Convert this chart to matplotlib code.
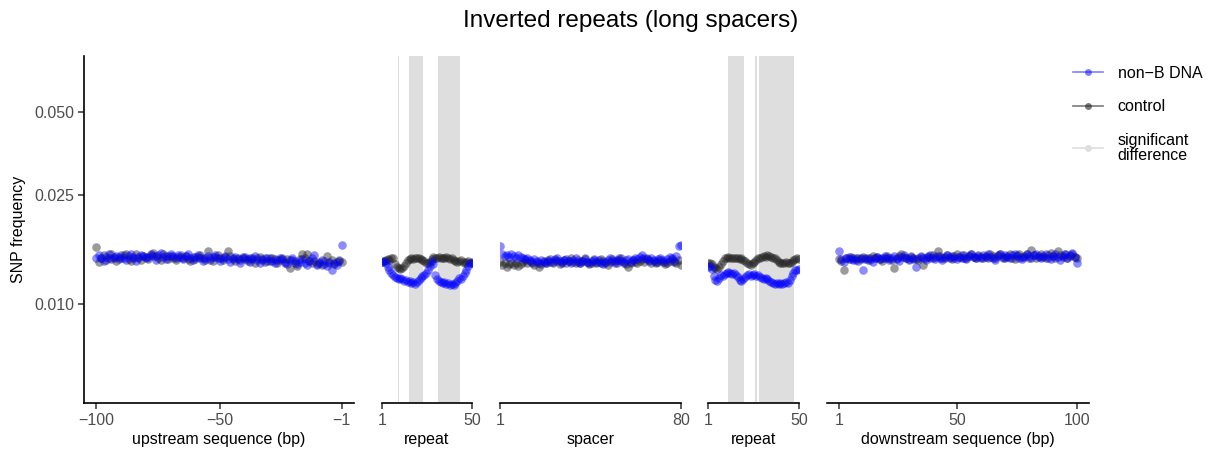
import numpy as np
import matplotlib.pyplot as plt
from matplotlib.lines import Line2D
from matplotlib.ticker import NullLocator

plt.rcParams['font.family'] = ['Liberation Sans', 'DejaVu Sans']

# SNP frequency values, in units of 1e-4
up_pos = np.arange(-100, 0)
up_nonb = [148, 151, 147, 144, 149, 153, 146, 149, 150, 146,
           151, 148, 145, 150, 152, 148, 144, 149, 151, 150,
           147, 149, 153, 150, 145, 151, 154, 149, 146, 150,
           152, 150, 147, 151, 149, 146, 150, 152, 148, 145,
           149, 151, 147, 144, 148, 150, 145, 149, 151, 147,
           144, 148, 150, 146, 143, 147, 149, 146, 142, 147,
           149, 146, 143, 147, 150, 145, 142, 146, 148, 144,
           147, 144, 141, 145, 148, 146, 142, 140, 145, 147,
           144, 140, 143, 146, 141, 139, 144, 147, 151, 139,
           142, 145, 140, 138, 143, 134, 142, 139, 144, 165]
up_ctrl = [162, 143, 147, 151, 145, 148, 152, 147, 144, 149,
           148, 151, 153, 146, 144, 149, 152, 148, 145, 150,
           149, 146, 151, 154, 150, 147, 145, 152, 150, 146,
           150, 148, 145, 149, 151, 147, 150, 146, 144, 149,
           146, 149, 151, 147, 145, 157, 148, 144, 149, 151,
           147, 145, 149, 156, 150, 146, 144, 148, 145, 149,
           146, 144, 148, 146, 142, 147, 149, 145, 143, 147,
           144, 148, 146, 142, 145, 147, 143, 146, 136, 145,
           142, 138, 146, 153, 147, 152, 144, 141, 144, 140,
           143, 139, 144, 150, 141, 145, 140, 143, 145, 143]

rep1_pos = np.arange(1, 51)
rep1_nonb = [143, 144, 141, 137, 133, 130, 128, 126, 125, 124,
             125, 124, 122, 123, 121, 122, 120, 121, 119, 121,
             123, 125, 127, 128, 130, 133, 138, 144, 140, 128,
             124, 122, 121, 120, 121, 119, 120, 118, 119, 118,
             120, 122, 125, 124, 127, 130, 134, 138, 142, 141]
rep1_ctrl = [143, 144, 145, 146, 145, 147, 148, 140, 137, 136,
             135, 136, 138, 142, 145, 146, 147, 146, 147, 148,
             147, 146, 145, 144, 142, 141, 143, 146, 149, 148,
             147, 149, 148, 147, 148, 149, 147, 146, 148, 145,
             144, 143, 144, 145, 143, 142, 143, 144, 142, 143]
rep1_sig = [10, 16, 17, 18, 19, 20, 21, 22, 23,
            32, 33, 34, 35, 36, 37, 38, 39, 40, 41, 42, 43]

sp_pos = np.arange(1, 81)
sp_nonb = [163, 152, 150, 151, 149, 152, 150, 148, 151, 149,
           148, 146, 147, 145, 143, 146, 144, 142, 145, 143,
           141, 144, 146, 143, 145, 147, 144, 142, 145, 146,
           144, 142, 145, 147, 143, 141, 144, 146, 143, 141,
           144, 146, 143, 145, 142, 140, 143, 145, 147, 144,
           142, 145, 147, 144, 142, 145, 146, 143, 145, 148,
           146, 149, 151, 148, 146, 144, 147, 145, 143, 146,
           148, 145, 143, 146, 149, 147, 144, 150, 163, 165]
sp_ctrl = [143, 139, 141, 137, 140, 142, 139, 141, 138, 140,
           143, 145, 142, 144, 141, 139, 143, 137, 140, 144,
           142, 145, 143, 141, 146, 144, 140, 143, 145, 142,
           144, 147, 143, 141, 145, 142, 144, 148, 143, 140,
           142, 145, 141, 143, 146, 144, 142, 139, 143, 146,
           144, 142, 145, 147, 143, 140, 137, 142, 145, 143,
           141, 144, 146, 143, 147, 145, 142, 144, 141, 143,
           145, 143, 140, 142, 144, 146, 143, 141, 145, 139]

rep2_pos = np.arange(1, 51)
rep2_nonb = [137, 138, 135, 127, 123, 122, 125, 128, 127, 129,
             130, 131, 130, 129, 130, 128, 126, 123, 122, 124,
             126, 128, 129, 127, 128, 129, 127, 128, 126, 125,
             124, 125, 124, 122, 121, 120, 119, 120, 119, 120,
             119, 120, 121, 120, 123, 127, 130, 133, 134, 135]
rep2_ctrl = [142, 141, 140, 137, 136, 135, 137, 140, 144, 147,
             148, 149, 148, 147, 148, 147, 148, 146, 147, 145,
             144, 142, 140, 139, 141, 143, 145, 147, 148, 149,
             150, 149, 151, 150, 149, 148, 147, 145, 143, 142,
             141, 142, 143, 142, 141, 143, 145, 146, 147, 146]
rep2_sig = [12, 13, 14, 15, 16, 17, 18, 19, 20, 27,
            29, 30, 31, 32, 33, 34, 35, 36, 37, 38, 39, 40,
            41, 42, 43, 44, 45, 46, 47]

down_pos = np.arange(1, 101)
down_nonb = [157, 146, 143, 147, 149, 146, 145, 148, 144, 147,
             134, 146, 148, 145, 143, 147, 149, 146, 148, 150,
             147, 145, 148, 150, 146, 144, 149, 151, 147, 145,
             149, 146, 137, 148, 150, 147, 145, 149, 151, 148,
             146, 150, 148, 145, 149, 151, 147, 150, 148, 146,
             149, 151, 148, 146, 150, 152, 149, 147, 151, 149,
             147, 150, 152, 149, 147, 145, 150, 152, 148, 151,
             149, 147, 151, 153, 150, 148, 146, 149, 152, 150,
             148, 151, 153, 149, 147, 150, 152, 148, 146, 150,
             153, 149, 145, 150, 152, 148, 151, 154, 149, 142]
down_ctrl = [146, 144, 134, 148, 146, 149, 147, 145, 148, 146,
             149, 147, 145, 148, 150, 147, 149, 146, 144, 148,
             150, 147, 145, 136, 148, 150, 152, 149, 147, 146,
             150, 148, 146, 145, 149, 139, 147, 150, 148, 151,
             149, 156, 150, 148, 147, 151, 149, 146, 150, 152,
             149, 147, 151, 148, 150, 153, 149, 147, 150, 148,
             151, 149, 147, 152, 150, 148, 151, 153, 149, 147,
             150, 152, 148, 146, 151, 153, 149, 150, 152, 148,
             158, 151, 148, 150, 153, 149, 147, 151, 154, 150,
             148, 156, 151, 149, 152, 147, 150, 153, 149, 148]

panels = [
    (up_pos, up_nonb, up_ctrl, [], 'upstream sequence (bp)',
     (-104.95, 3.95), [-100, -50, -1], ['\u2212100', '\u221250', '\u22121']),
    (rep1_pos, rep1_nonb, rep1_ctrl, rep1_sig, 'repeat', (1, 50), [1, 50], ['1', '50']),
    (sp_pos, sp_nonb, sp_ctrl, [], 'spacer', (1, 80), [1, 80], ['1', '80']),
    (rep2_pos, rep2_nonb, rep2_ctrl, rep2_sig, 'repeat', (1, 50), [1, 50], ['1', '50']),
    (down_pos, down_nonb, down_ctrl, [], 'downstream sequence (bp)',
     (-3.95, 104.95), [1, 50, 100], ['1', '50', '100']),
]
# panel extents in pixels (left, right)
extents = [(84, 354), (382, 472), (500, 681), (708, 799), (827, 1089)]

W, H = 1215, 454
fig = plt.figure(figsize=(W / 100, H / 100), dpi=100)

blue = '#0000ff'
dark = '#222222'
band = '#dedede'
ylo, yhi = 10 ** -2.358, 10 ** -1.097

for i, (pos, nonb, ctrl, sig, xlab, xlim, xt, xtl) in enumerate(panels):
    l, r = extents[i]
    ax = fig.add_axes([l / W, (H - 403) / H, (r - l) / W, (403 - 56) / H])
    ax.set_yscale('log')
    ax.set_ylim(ylo, yhi)
    ax.set_xlim(*xlim)

    # merge consecutive significant positions into bands
    if sig:
        runs = []
        start = prev = sig[0]
        for p in sig[1:]:
            if p != prev + 1:
                runs.append((start, prev))
                start = p
            prev = p
        runs.append((start, prev))
        for a, b in runs:
            ax.axvspan(a - 0.5, b + 0.5, color=band, lw=0, zorder=0)

    ax.scatter(pos, np.array(ctrl) / 1e4, s=38, color=dark, alpha=0.45, lw=0, zorder=2)
    ax.scatter(pos, np.array(nonb) / 1e4, s=38, color=blue, alpha=0.45, lw=0, zorder=3)

    for s in ['top', 'right']:
        ax.spines[s].set_visible(False)
    ax.spines['bottom'].set_linewidth(1.2)
    ax.spines['left'].set_linewidth(1.2)
    ax.set_xticks(xt)
    ax.set_xticklabels(xtl)
    ax.tick_params(axis='both', length=4, width=1.1, color='#333333',
                   labelsize=11.5, labelcolor='#4d4d4d', pad=3)
    ax.set_xlabel(xlab, fontsize=11.5, labelpad=3)
    ax.yaxis.set_minor_locator(NullLocator())
    if i == 0:
        ax.set_yticks([0.010, 0.025, 0.050])
        ax.set_yticklabels(['0.010', '0.025', '0.050'])
        ax.yaxis.set_minor_locator(NullLocator())
        ax.set_ylabel('SNP frequency', fontsize=11.5, labelpad=6)
    else:
        ax.spines['left'].set_visible(False)
        ax.set_yticks([])
        ax.yaxis.set_minor_locator(NullLocator())

fig.text(631 / W, 1 - 21 / H, 'Inverted repeats (long spacers)', ha='center', va='center',
         fontsize=17.5)

handles = [
    Line2D([], [], color=blue, alpha=0.5, lw=1.2, marker='o', markersize=5,
           markerfacecolor=blue, markeredgewidth=0),
    Line2D([], [], color=dark, alpha=0.6, lw=1.2, marker='o', markersize=5,
           markerfacecolor=dark, markeredgewidth=0),
    Line2D([], [], color=band, lw=1.2, marker='o', markersize=5,
           markerfacecolor=band, markeredgewidth=0),
]
leg = fig.legend(handles, ['non\u2212B DNA', 'control', 'significant\ndifference'],
                 loc='upper left', bbox_to_anchor=(1073 / W, 1 - 66 / H), frameon=False,
                 fontsize=11.5, handlelength=1.9, handletextpad=0.9, labelspacing=1.15,
                 borderpad=0, borderaxespad=0)
for t in leg.get_texts():
    t.set_linespacing(1.0)

fig.savefig('out.png', dpi=100)
